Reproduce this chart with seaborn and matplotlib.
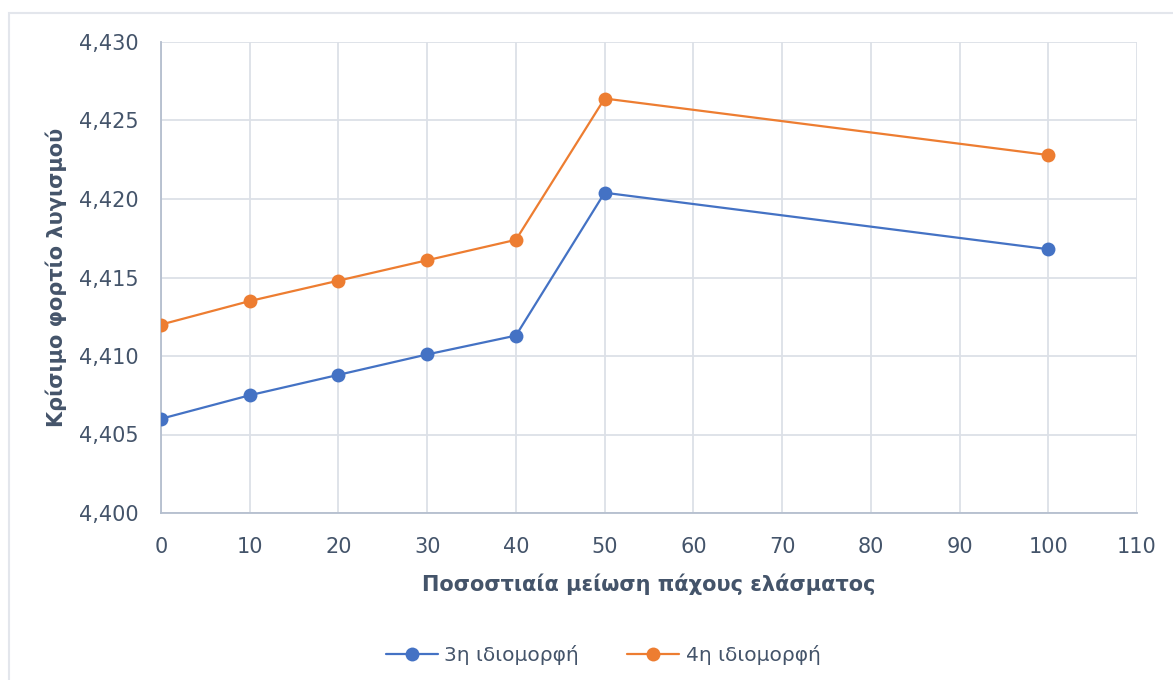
import matplotlib
matplotlib.use("Agg")
import matplotlib.pyplot as plt
from matplotlib.ticker import FuncFormatter, MultipleLocator
from matplotlib.lines import Line2D
from matplotlib.patches import Rectangle
import seaborn as sns
import pandas as pd

# Percentage reduction of plate thickness
reduction = [0, 10, 20, 30, 40, 50, 100]
# Critical buckling load for the 3rd and 4th mode shapes
mode3 = [4.4060, 4.4075, 4.4088, 4.4101, 4.4113, 4.4204, 4.4168]
mode4 = [4.4120, 4.4135, 4.4148, 4.4161, 4.4174, 4.4264, 4.4228]
series_names = ["3η ιδιομορφή", "4η ιδιομορφή"]
x_label = "Ποσοστιαία μείωση πάχους ελάσματος"
y_label = "Κρίσιμο φορτίο λυγισμού"

colors = ["#4472C4", "#ED7D31"]
text_color = "#44546A"
grid_color = "#DCE0E7"
axis_color = "#B4BECE"

df = pd.concat([
    pd.DataFrame({"x": reduction, "y": mode3, "series": series_names[0]}),
    pd.DataFrame({"x": reduction, "y": mode4, "series": series_names[1]}),
])

sns.set_theme(style="white")
plt.rcParams["font.family"] = ["DejaVu Sans"]

fig = plt.figure(figsize=(11.73, 6.80), dpi=100)
ax = fig.add_axes([161 / 1173, 1 - 513 / 680, (1137 - 161) / 1173, (513 - 42) / 680])

# light chart-area frame
fig.patches.append(Rectangle((9 / 1173, -0.1), 1.2, 1 - 13 / 680 + 0.1,
                             transform=fig.transFigure, fill=False,
                             edgecolor="#E3E6EC", linewidth=1.5, zorder=0))

sns.lineplot(data=df, x="x", y="y", hue="series", palette=colors,
             marker="o", markersize=10, markeredgewidth=0, linewidth=1.6,
             ax=ax, legend=False, zorder=3)

ax.set_xlim(0, 110)
ax.set_ylim(4.400, 4.430)
ax.xaxis.set_major_locator(MultipleLocator(10))
ax.yaxis.set_major_locator(MultipleLocator(0.005))
ax.yaxis.set_major_formatter(FuncFormatter(lambda v, p: f"{v:.3f}".replace(".", ",")))

ax.grid(True, color=grid_color, linewidth=1.3)
ax.set_axisbelow(True)
for side in ["top", "right"]:
    ax.spines[side].set_visible(False)
for side in ["left", "bottom"]:
    ax.spines[side].set_color(axis_color)
    ax.spines[side].set_linewidth(1.3)

ax.tick_params(axis="both", length=0, labelsize=15, labelcolor=text_color)
ax.tick_params(axis="x", pad=17)
ax.tick_params(axis="y", pad=16)

ax.set_xlabel(x_label, fontsize=15, fontweight="bold", color=text_color, labelpad=12)
ax.set_ylabel(y_label, fontsize=15, fontweight="bold", color=text_color, labelpad=9)

handles = [Line2D([0], [0], color=c, marker="o", markersize=10, markeredgewidth=0,
                  linewidth=1.6) for c in colors]
fig.legend(handles, series_names, loc="center", bbox_to_anchor=(603 / 1173, 1 - 655 / 680),
           ncol=2, frameon=False, fontsize=14.5, labelcolor=text_color,
           handlelength=2.6, columnspacing=2.4, handletextpad=0.3)

fig.savefig("out.png", dpi=100, facecolor="white")
